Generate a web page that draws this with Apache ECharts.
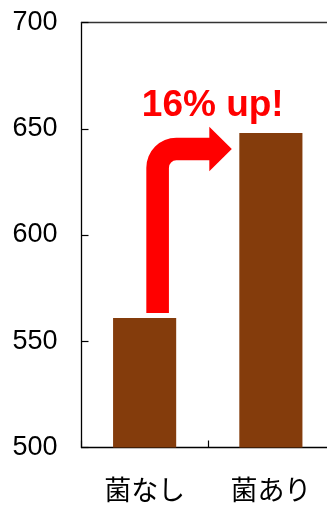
<!DOCTYPE html>
<html><head><meta charset="utf-8">
<script src="https://cdn.jsdelivr.net/npm/echarts@6/dist/echarts.min.js"></script>
<style>html,body{margin:0;padding:0;background:#fff}#c{width:327px;height:508px}</style>
</head><body><div id="c"></div>
<script>
const categories = ['菌なし', '菌あり'];
const values = [561, 648];
const yTicks = { min: 500, max: 700, interval: 50 };
const annotation = '16% up!';

const chart = echarts.init(document.getElementById('c'), null, { renderer: 'canvas' });
const BAR_COLOR = '#843C0C';

function renderArrow(params, api) {
  const p1 = api.coord([0, values[0]]);
  const p2 = api.coord([1, values[1]]);
  const band = api.size([1, 0])[0];
  const barW = band * 0.5;
  const hw = 11.3;
  const cx = p1[0] + 13;
  const yb = p1[1] - 5;
  const cy = p2[1] + 16;
  const R = 30, r = R - 2 * hw;
  const bar2Left = p2[0] - barW / 2;
  const xh = bar2Left - 30;
  const tip = bar2Left - 7.5;
  const hh = 22.2;
  const d = [
    'M', cx - hw, yb,
    'L', cx - hw, cy - hw + R,
    'A', R, R, 0, 0, 1, cx - hw + R, cy - hw,
    'L', xh, cy - hw,
    'L', xh, cy - hh,
    'L', tip, cy,
    'L', xh, cy + hh,
    'L', xh, cy + hw,
    'L', cx + hw + r, cy + hw,
    'A', r, r, 0, 0, 0, cx + hw, cy + hw + r,
    'L', cx + hw, yb, 'Z'
  ].join(' ');
  return {
    type: 'group',
    children: [
      { type: 'path', shape: { pathData: d }, style: { fill: '#FF0000' } },
      { type: 'text', style: {
          text: annotation, x: (p1[0] + p2[0]) / 2 + 5, y: p2[1] - 27,
          fill: '#FF0000', font: 'bold 37px "Liberation Sans", Arial, sans-serif',
          align: 'center', verticalAlign: 'middle' } }
    ]
  };
}

chart.setOption({
  animation: false,
  grid: { left: 81.5, top: 22.5, width: 252.5, height: 425, containLabel: false, outerBoundsMode: 'none' },
  xAxis: [{
    type: 'category', data: categories, position: 'bottom',
    axisLine: { lineStyle: { color: '#000', width: 1.3 } },
    axisTick: { show: true, inside: true, length: 7, alignWithLabel: false, lineStyle: { color: '#000', width: 1.2 } },
    axisLabel: { color: '#000', fontSize: 27, margin: 29, fontFamily: '"Noto Sans CJK JP", sans-serif' },
    splitLine: { show: false }
  }, {
    type: 'category', data: categories, position: 'top',
    axisLine: { lineStyle: { color: '#333', width: 1.3 } },
    axisTick: { show: false }, axisLabel: { show: false }
  }],
  yAxis: {
    type: 'value', min: yTicks.min, max: yTicks.max, interval: yTicks.interval,
    axisLine: { show: true, lineStyle: { color: '#000', width: 1.3 } },
    axisTick: { show: true, inside: true, length: 7, lineStyle: { color: '#000', width: 1.2 } },
    axisLabel: { color: '#000', fontSize: 27, margin: 24, fontFamily: '"Liberation Sans", Arial, sans-serif' },
    splitLine: { show: false }
  },
  series: [{
    type: 'bar', data: values, barWidth: '50%',
    itemStyle: { color: BAR_COLOR }
  }, {
    type: 'custom', data: [[0, values[0]]], renderItem: renderArrow, z: 5, silent: true, clip: false
  }]
});
</script>
</body></html>
